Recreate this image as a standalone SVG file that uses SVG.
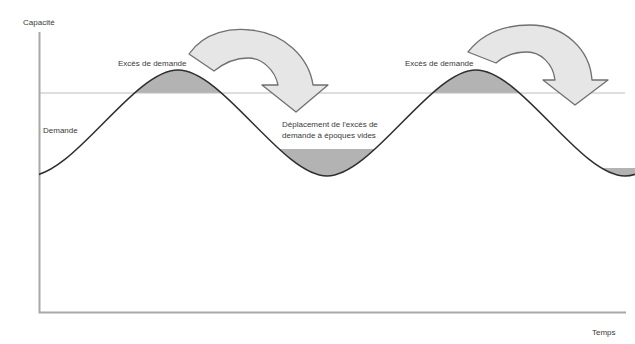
<svg xmlns="http://www.w3.org/2000/svg" width="635" height="344" viewBox="0 0 635 344">
  <style>
    .lbl { font-family: "Liberation Sans", Arial, sans-serif; font-size: 8px; fill: #3a3a3a; }
    .axis { stroke: #a8a8a8; stroke-width: 2; fill: none; }
    .cap { stroke: #bdbdbd; stroke-width: 1; fill: none; }
    .demand { stroke: #2e2e2e; stroke-width: 1.5; fill: none; }
    .shade { fill: #b3b3b3; stroke: none; }
    .shift { fill: #e6e6e6; stroke: #707070; stroke-width: 1.3; stroke-linejoin: round; }
  </style>
  <defs>
    <!-- demand wave: troughs at x=29/327/625 (y=176), peaks at x=178/476 (y=70) -->
    <path id="wave" d="M29,176 C73.7,176 133.3,70 178,70 C222.7,70 282.3,176 327,176 C371.7,176 431.3,70 476,70 C520.7,70 580.3,176 625,176 C669.7,176 729.3,70 774,70"/>
    <path id="below" d="M29,176 C73.7,176 133.3,70 178,70 C222.7,70 282.3,176 327,176 C371.7,176 431.3,70 476,70 C520.7,70 580.3,176 625,176 C669.7,176 729.3,70 774,70 L774,300 L29,300 Z"/>
    <path id="above" d="M29,176 C73.7,176 133.3,70 178,70 C222.7,70 282.3,176 327,176 C371.7,176 431.3,70 476,70 C520.7,70 580.3,176 625,176 C669.7,176 729.3,70 774,70 L774,0 L29,0 Z"/>
    <clipPath id="plot"><rect x="39" y="0" width="596" height="344"/></clipPath>
    <clipPath id="aboveCap"><rect x="39" y="0" width="596" height="93"/></clipPath>
    <clipPath id="valley1"><rect x="200" y="149" width="250" height="100"/></clipPath>
    <clipPath id="valley2"><rect x="500" y="168" width="135" height="100"/></clipPath>
  </defs>
  <rect width="635" height="344" fill="#ffffff"/>

  <!-- shaded excess over capacity -->
  <g id="excess" clip-path="url(#plot)">
    <use href="#below" class="shade" clip-path="url(#aboveCap)"/>
  </g>
  <!-- shaded demand moved into the valleys -->
  <g id="valleys" clip-path="url(#plot)">
    <use href="#above" class="shade" clip-path="url(#valley1)"/>
    <use href="#above" class="shade" clip-path="url(#valley2)"/>
  </g>

  <!-- capacity level -->
  <line id="capacity" class="cap" x1="39" y1="93" x2="625" y2="93"/>

  <!-- axes -->
  <g id="axes">
    <path class="axis" d="M39.5,32 L39.5,312.5 L626,312.5"/>
  </g>

  <!-- demand curve -->
  <g id="demand" clip-path="url(#plot)">
    <use href="#wave" class="demand"/>
  </g>

  <!-- curved arrows: shifting excess to valleys -->
  <g id="connectors">
    <path id="shift1" class="shift" d="M189,54 C205,31 232,28 250,30 C285,33 309,58 313,85 L328,85 L296,112 L262,85 L278,85 C275,70 262,58 248,58 C235,58 224,63 214,71 Z"/>
    <path id="shift2" class="shift" d="M468,52 C485,30 510,25 530,25 C565,25 590,50 592,80 L608,80 L575,105 L543,80 L555,80 C553,63 540,52 527,52 C515,52 504,56 496,63 Z"/>
  </g>

  <!-- labels -->
  <g id="labels">
    <text class="lbl" x="23" y="25">Capacité</text>
    <text class="lbl" x="118" y="66">Excès de demande</text>
    <text class="lbl" x="405" y="66">Excès de demande</text>
    <text class="lbl" x="43" y="133">Demande</text>
    <text class="lbl" x="282" y="127">Déplacement de l'excès de</text>
    <text class="lbl" x="282" y="138">demande à époques vides</text>
    <text class="lbl" x="592" y="335" font-size="7">Temps</text>
  </g>
</svg>
